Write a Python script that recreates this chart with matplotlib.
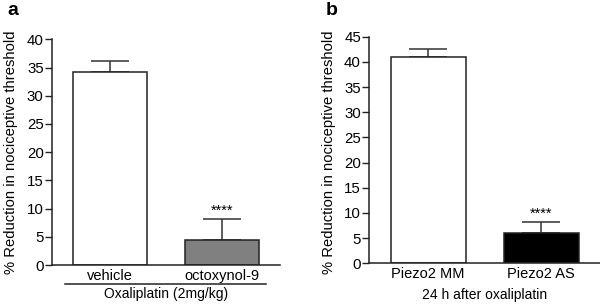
import matplotlib
matplotlib.use("Agg")
import matplotlib.pyplot as plt
from matplotlib.lines import Line2D

plt.rcParams['font.family'] = ['Liberation Sans', 'DejaVu Sans']

# panel a
groups_a = ["vehicle", "octoxynol-9"]
means_a = [34.2, 4.4]
sem_a = [1.9, 3.8]
colors_a = ["white", "#808080"]

# panel b
groups_b = ["Piezo2 MM", "Piezo2 AS"]
means_b = [40.9, 6.0]
sem_b = [1.6, 2.2]
colors_b = ["white", "black"]

ylabel = "% Reduction in nociceptive threshold"


def panel(ax, groups, means, sem, colors, ymax):
    x = range(len(groups))
    ax.bar(x, means, width=0.665, color=colors, edgecolor="#222222", linewidth=1.1, zorder=2)
    ax.errorbar(x, means, yerr=[[0] * len(sem), sem], fmt="none", ecolor="#333333",
                elinewidth=1.1, capsize=14, capthick=1.1, zorder=1)
    ax.set_xlim(-0.52, 1.52)
    ax.set_ylim(0, ymax)
    ax.set_yticks(range(0, ymax + 1, 5))
    ax.set_xticks(list(x))
    ax.set_xticklabels(groups, fontsize=10.5)
    ax.tick_params(axis="x", length=0, pad=3)
    ax.tick_params(axis="y", length=5, width=1, labelsize=10.8, pad=1, color="#222222")
    for s in ["top", "right"]:
        ax.spines[s].set_visible(False)
    for s in ["left", "bottom"]:
        ax.spines[s].set_linewidth(1.1)
        ax.spines[s].set_color("#222222")
    ax.set_ylabel(ylabel, fontsize=10.6)
    # significance stars above the second bar
    ax.annotate("****", (1, means[1] + sem[1]), xytext=(0, 1), textcoords="offset points",
                ha="center", va="bottom", fontsize=10.5)


fig = plt.figure(figsize=(6, 3.08), dpi=100)
ax1 = fig.add_axes([0.0867, 0.1396, 0.38, 0.7328])
ax2 = fig.add_axes([0.6155, 0.1451, 0.3845, 0.7357])

panel(ax1, groups_a, means_a, sem_a, colors_a, 40)
panel(ax2, groups_b, means_b, sem_b, colors_b, 45)
ax1.yaxis.set_label_coords(-0.15, 0.5)
ax2.yaxis.set_label_coords(-0.143, 0.49)

# group bracket under panel a
trans = ax1.get_xaxis_transform()
ax1.add_line(Line2D([-0.4, 1.393], [-0.0855, -0.0855], transform=trans, color="#222222",
                    linewidth=1.1, clip_on=False))
ax1.text(0.5, -0.13, "Oxaliplatin (2mg/kg)", transform=trans, ha="center", va="center",
         fontsize=10)

ax2.text(0.5, -0.138, "24 h after oxaliplatin", transform=ax2.get_xaxis_transform(),
         ha="center", va="center", fontsize=10)

fig.text(0.013, 0.965, "a", fontsize=14, fontweight="bold", va="center")
fig.text(0.543, 0.965, "b", fontsize=14, fontweight="bold", va="center")

fig.savefig("out.png", dpi=100, facecolor="white")
